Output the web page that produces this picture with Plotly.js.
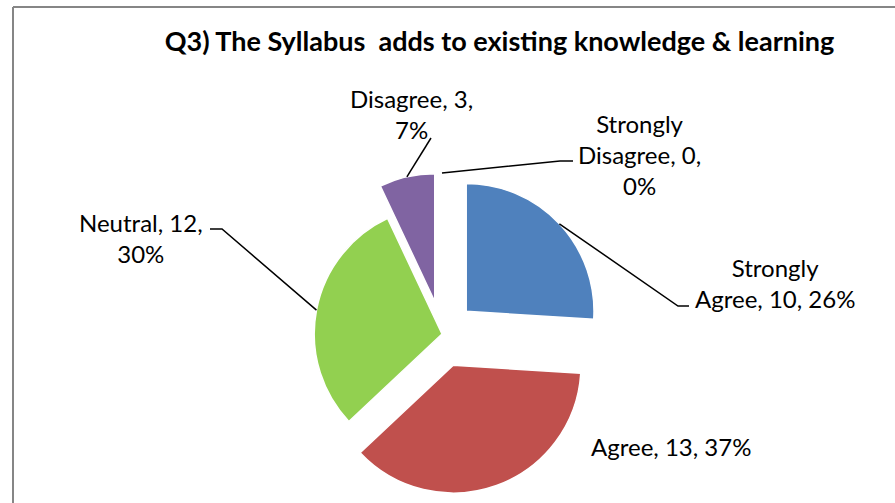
<!DOCTYPE html>
<html>
<head>
<meta charset="utf-8">
<script src="https://cdn.plot.ly/plotly-3.0.1.min.js"></script>
<style>
  html, body { margin: 0; padding: 0; background: #ffffff; }
  #chart { width: 895px; height: 503px; }
</style>
</head>
<body>
<div id="chart"></div>
<script>
// ---- data ----
const categories = ["Strongly Agree", "Agree", "Neutral", "Disagree", "Strongly Disagree"];
const counts = [10, 13, 12, 3, 0];
const percents = [26, 37, 30, 7, 0];
const titleText = "Q3) The Syllabus\u00a0 adds to existing knowledge & learning";

// ---- styling ----
const colors = ["#4F81BD", "#C0504D", "#92D050", "#8064A2", "#F79646"];
const pulls = [0.26, 0.26, 0, 0.26, 0.26];
const W = 895, H = 503;
const FONT = "Lato, 'Open Sans', sans-serif";

// pie box in pixels
const box = { x0: 281, x1: 603, y0: 173, y1: 495 };
const fx = x => x / W;
const fy = y => 1 - y / H;

// word wrap like the spreadsheet labels
function wrap(s, maxLen) {
  const words = s.split(" ");
  const lines = [];
  let cur = "";
  words.forEach(w => {
    const t = cur ? cur + " " + w : w;
    if (t.length > maxLen && cur) { lines.push(cur); cur = w; }
    else cur = t;
  });
  if (cur) lines.push(cur);
  return lines.join("<br>");
}

// geometry of the pie as Plotly lays it out
const maxPull = Math.max(...pulls);
const cx = (box.x0 + box.x1) / 2, cy = (box.y0 + box.y1) / 2;
const R = Math.min(box.x1 - box.x0, box.y1 - box.y0) / (2 + 2 * maxPull);
const total = percents.reduce((a, b) => a + b, 0);
let cum = 0;
const anchors = percents.map((v, i) => {
  const a0 = cum / total * 2 * Math.PI;
  cum += v;
  const a1 = cum / total * 2 * Math.PI;
  const m = (a0 + a1) / 2;
  const ax = cx + pulls[i] * R * Math.sin(m);
  const ay = cy - pulls[i] * R * Math.cos(m);
  return [ax + R * Math.sin(m), ay - R * Math.cos(m)];
});

// label placement (pixels) and leader-line elbows
const labelPos = [[775, 283], [671, 446], [141, 238], [411, 114], [639, 154]];
const elbows = [
  [[678, 306], [689, 306]],
  null,
  [[222, 229], [210, 229]],
  [[431, 138]],
  [[560, 161], [573, 161]]
];

const annotations = categories.map((c, i) => ({
  text: wrap(`${c}, ${counts[i]}, ${percents[i]}%`, 14),
  x: fx(labelPos[i][0]), y: fy(labelPos[i][1]),
  xref: "paper", yref: "paper",
  xanchor: "center", yanchor: "middle",
  align: "center", showarrow: false,
  font: { family: FONT, size: 24, color: "#000000" }
}));

const shapes = [];
elbows.forEach((pts, i) => {
  if (!pts) return;
  let p = `M ${fx(anchors[i][0])} ${fy(anchors[i][1])}`;
  pts.forEach(q => { p += ` L ${fx(q[0])} ${fy(q[1])}`; });
  shapes.push({ type: "path", path: p, xref: "paper", yref: "paper",
    line: { color: "#000000", width: 1.5 } });
});
// chart area border (top and left visible)
shapes.push({ type: "line", xref: "paper", yref: "paper",
  x0: fx(13), y0: fy(7), x1: 1.01, y1: fy(7), line: { color: "#868686", width: 2 } });
shapes.push({ type: "line", xref: "paper", yref: "paper",
  x0: fx(13), y0: fy(7), x1: fx(13), y1: -0.01, line: { color: "#868686", width: 2 } });

const trace = {
  type: "pie",
  labels: categories,
  values: percents,
  sort: false,
  direction: "clockwise",
  rotation: 0,
  pull: pulls,
  textinfo: "none",
  hoverinfo: "label+value",
  marker: { colors: colors, line: { color: "#ffffff", width: 1.5 } },
  domain: { x: [fx(box.x0), fx(box.x1)], y: [fy(box.y1), fy(box.y0)] }
};

const layout = {
  width: W, height: H,
  margin: { l: 0, r: 0, t: 0, b: 0 },
  paper_bgcolor: "#ffffff",
  showlegend: false,
  title: {
    text: "<b>" + titleText + "</b>",
    x: fx(499.5), xanchor: "center",
    y: 1 - 42 / H, yanchor: "middle",
    font: { family: FONT, size: 27, color: "#000000" }
  },
  annotations: annotations,
  shapes: shapes
};

Plotly.newPlot("chart", [trace], layout, { displayModeBar: false, staticPlot: true });
</script>
</body>
</html>
